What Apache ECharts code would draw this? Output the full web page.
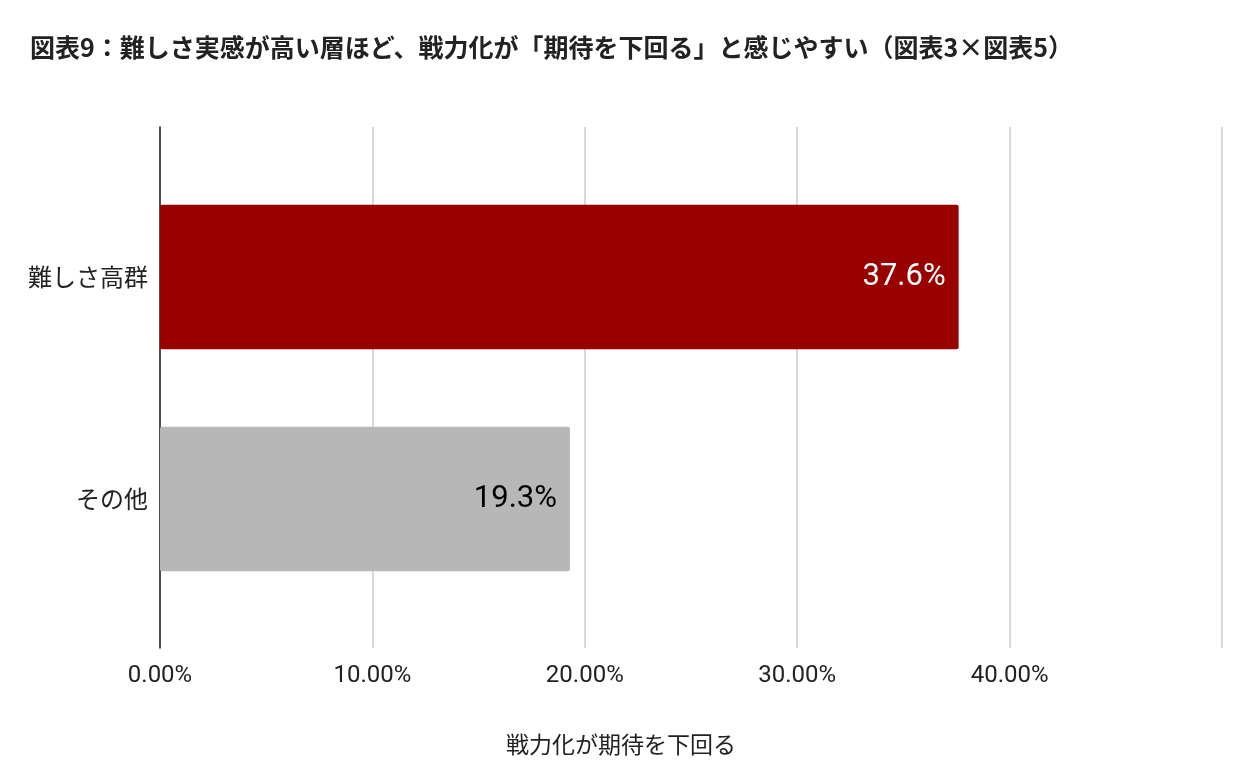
<!DOCTYPE html>
<html><head><meta charset="utf-8">
<script src="https://cdn.jsdelivr.net/npm/echarts@6/dist/echarts.min.js"></script>
<style>html,body{margin:0;padding:0;background:#fff}#c{width:1242px;height:779px}</style>
</head><body><div id="c"></div>
<script>
const categories = ['その他', '難しさ高群'];
const values = [0.193, 0.376];
const colors = ['#b7b7b7', '#990000'];
const labelColors = ['#000', '#fff'];
const chart = echarts.init(document.getElementById('c'));
chart.setOption({
  animation: false,
  title: [{ text: '図表9：難しさ実感が高い層ほど、戦力化が「期待を下回る」と感じやすい（図表3×図表5）', left: 25, top: 30,
    textStyle: { fontFamily: 'Noto Sans CJK JP', fontSize: 25, fontWeight: 'bold', color: '#222' } },
    { text: '戦力化が期待を下回る', left: 'center', top: 728,
    textStyle: { fontFamily: 'Noto Sans CJK JP', fontSize: 23, fontWeight: 'normal', color: '#222' } }],
  grid: [{ left: 160, right: 20, top: 127, bottom: 131 },
         { left: 160, right: 20, top: 166, bottom: 169 }],
  xAxis: [{ gridIndex: 0, type: 'value', min: 0, max: 0.5, interval: 0.1,
    axisLabel: { fontFamily: 'Roboto', fontSize: 24, color: '#222', margin: 16,
      formatter: v => v >= 0.5 ? '' : (v * 100).toFixed(2) + '%' },
    splitLine: { lineStyle: { color: '#ccc', width: 1.5 } },
    axisLine: { show: false }, axisTick: { show: false } },
    { gridIndex: 1, type: 'value', min: 0, max: 0.5, show: false }],
  yAxis: [{ gridIndex: 0, type: 'value', min: 0, max: 1, axisLabel: { show: false }, splitLine: { show: false },
    axisLine: { show: true, lineStyle: { color: '#222', width: 1.5 } }, axisTick: { show: false } },
    { gridIndex: 1, type: 'category', data: categories,
    axisLabel: { fontFamily: 'Noto Sans CJK JP', fontSize: 24, color: '#222', margin: 12 },
    axisLine: { show: false }, axisTick: { show: false } }],
  series: [{ type: 'bar', xAxisIndex: 1, yAxisIndex: 1, barWidth: '65%',
    data: values.map((v, i) => ({ value: v, itemStyle: { color: colors[i], borderRadius: 2 },
      label: { color: labelColors[i] } })),
    label: { show: true, position: 'insideRight', distance: 13, fontFamily: 'Roboto', fontSize: 31,
      formatter: p => (p.value * 100).toFixed(1) + '%' } }]
});
</script></body></html>
